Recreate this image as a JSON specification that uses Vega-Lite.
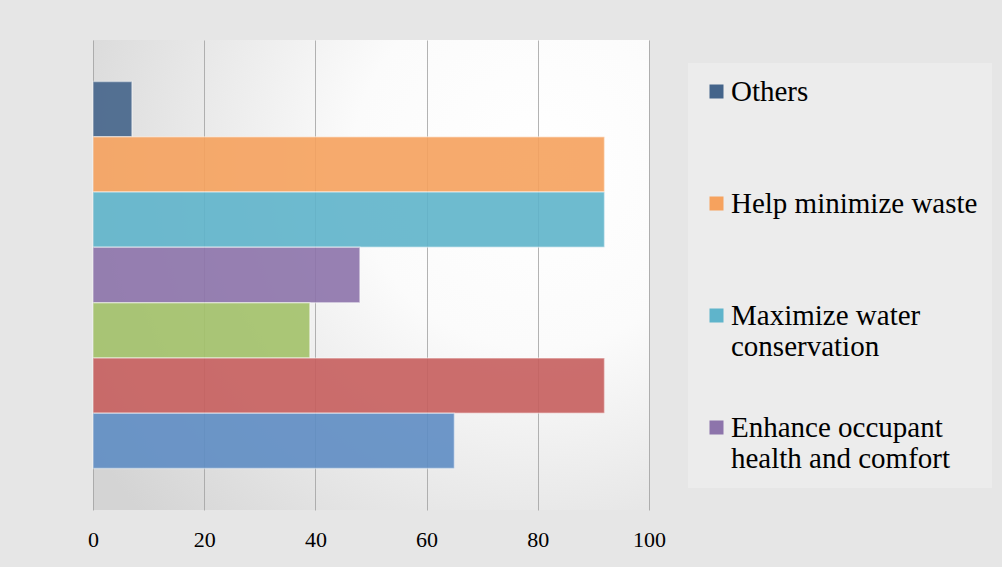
{
  "$schema": "https://vega.github.io/schema/vega-lite/v6.json",
  "width": 556,
  "height": 470,
  "autosize": {"type": "none"},
  "padding": {"left": 93, "top": 40, "right": 353, "bottom": 57},
  "background": "#e6e6e6",
  "data": {
    "values": [
      {"category": "Others", "order": 1, "value": 7},
      {"category": "Help minimize waste", "order": 2, "value": 92},
      {"category": "Maximize water conservation", "order": 3, "value": 92},
      {"category": "Enhance occupant health and comfort", "order": 4, "value": 48},
      {"category": "Improve energy efficiency", "order": 5, "value": 39},
      {"category": "Reduce environmental impact", "order": 6, "value": 92},
      {"category": "Lower operating costs", "order": 7, "value": 65}
    ]
  },
  "mark": {"type": "bar", "opacity": 0.9, "stroke": "#ffffff", "strokeOpacity": 0.45, "strokeWidth": 1.5},
  "encoding": {
    "y": {
      "field": "category",
      "type": "nominal",
      "sort": {"field": "order", "order": "ascending"},
      "scale": {"paddingInner": 0, "paddingOuter": 0.75},
      "axis": null
    },
    "x": {
      "field": "value",
      "type": "quantitative",
      "scale": {"domain": [0, 100], "nice": false},
      "axis": {
        "title": null,
        "values": [0, 20, 40, 60, 80, 100],
        "domain": false,
        "ticks": false,
        "grid": true,
        "gridColor": "#a0a0a0",
        "gridOpacity": 0.8,
        "gridWidth": 1,
        "labelFont": "Liberation Serif",
        "labelFontSize": 22,
        "labelColor": "#000000",
        "labelPadding": 19,
        "labelFlush": false
      }
    },
    "color": {
      "field": "category",
      "type": "nominal",
      "scale": {
        "domain": ["Others", "Help minimize waste", "Maximize water conservation", "Enhance occupant health and comfort", "Improve energy efficiency", "Reduce environmental impact", "Lower operating costs"],
        "range": ["#44648a", "#f6a25e", "#5fb4cb", "#8d74ab", "#a3c26a", "#c75f5e", "#5f8dc4"]
      },
      "legend": {
        "orient": "none",
        "legendX": 595,
        "legendY": 23,
        "title": null,
        "values": ["Others", "Help minimize waste", "Maximize water conservation", "Enhance occupant health and comfort"],
        "symbolType": "square",
        "symbolSize": 196,
        "symbolStrokeWidth": 0,
        "symbolOpacity": 1,
        "labelFont": "Liberation Serif",
        "labelFontSize": 29,
        "labelColor": "#000000",
        "labelOffset": 0,
        "labelLimit": 400,
        "labelBaseline": "middle",
        "rowPadding": 51,
        "padding": 14,
        "fillColor": "#ececec",
        "labelExpr": "datum.label == 'Others' ? ['Others', ''] : datum.label == 'Help minimize waste' ? ['Help minimize waste', ''] : datum.label == 'Maximize water conservation' ? ['Maximize water', 'conservation'] : ['Enhance occupant', 'health and comfort']",
        "encode": {"labels": {"update": {"lineHeight": {"value": 33}, "font": {"value": "Liberation Serif"}}}}
      }
    }
  },
  "config": {
    "view": {
      "stroke": null,
      "fill": {
        "gradient": "radial",
        "x1": 0.8, "y1": 0.3, "r1": 0,
        "x2": 0.8, "y2": 0.3, "r2": 0.95,
        "stops": [
          {"offset": 0, "color": "#ffffff"},
          {"offset": 0.35, "color": "#fbfbfb"},
          {"offset": 1, "color": "#d4d4d4"}
        ]
      }
    }
  }
}
